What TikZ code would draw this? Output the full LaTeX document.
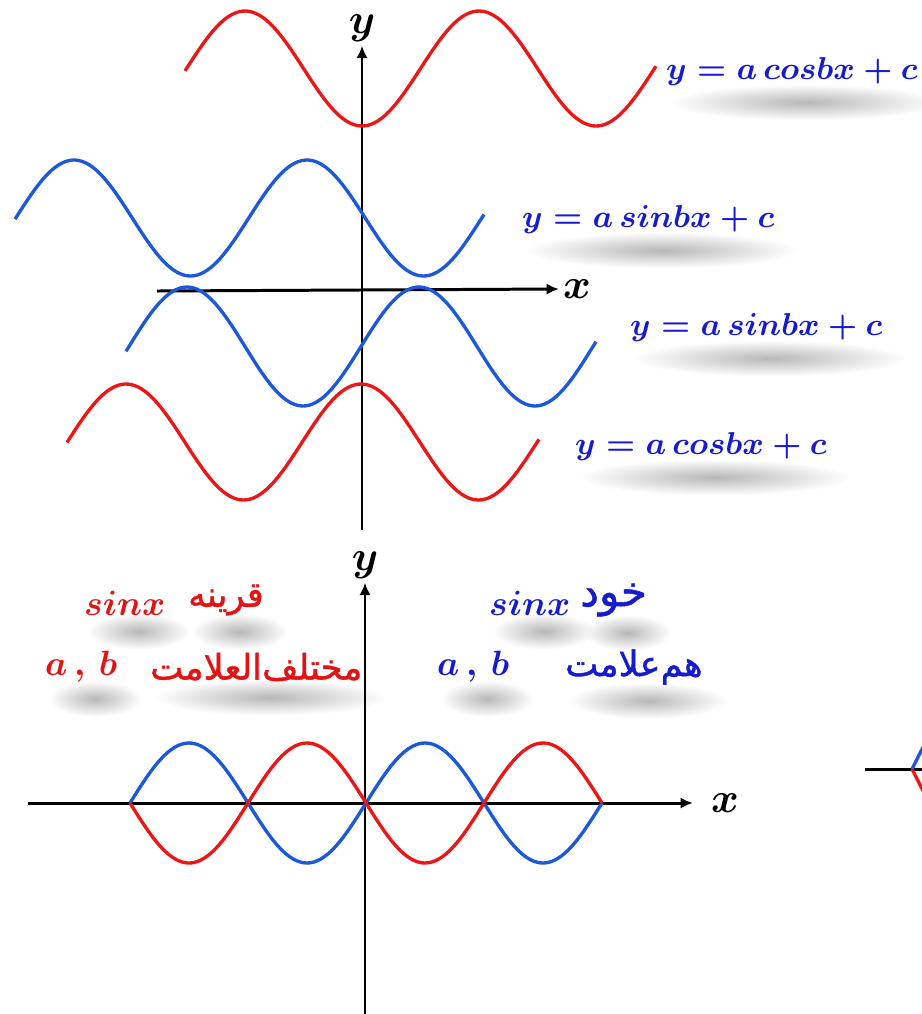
\documentclass[tikz,border=0pt]{standalone}
\usepackage{fontspec}
\newfontfamily\farsi[Script=Arabic,FakeBold=1.2]{DejaVu Sans}
\TeXXeTstate=1
\usetikzlibrary{arrows.meta,fadings,backgrounds}
\definecolor{wavered}{RGB}{236,22,22}
\definecolor{waveblue}{RGB}{28,88,218}
\definecolor{textblue}{RGB}{22,28,205}
\definecolor{textred}{RGB}{228,18,18}
\tikzfading[name=smear, inner color=transparent!30, outer color=transparent!100]
\tikzset{
  wave/.style={line width=0.95pt, smooth, samples=140},
  axis/.style={line width=0.85pt, -{Latex[length=3.5pt,width=3.2pt]}},
  axlabel/.style={font=\large\boldmath, inner sep=1pt},
  eqn/.style={text=textblue, font=\fontsize{9.2}{11}\selectfont\boldmath, inner sep=1pt, anchor=west},
  word/.style={font=\fontsize{10}{12}\selectfont\boldmath, inner sep=1pt, anchor=west},
  fa/.style={font=\fontsize{10}{12}\farsi, inner sep=1pt, anchor=west},
  smudge/.style={fill=black!40, path fading=smear}
}
\begin{document}
\begin{tikzpicture}[x=0.01cm, y=-0.01cm]
  \useasboundingbox (0,0) rectangle (922,1014);
  % upper graph
  \node[axlabel] (ytop) at (362,28) {$y$};
  \node[axlabel] (xtop) at (577,289) {$x$};
  \draw[axis] (362,530) -- (ytop.south);
  \draw[axis] (157,291) -- (xtop.west);
  \draw[wave, wavered, domain=185:656] plot (\x, {68.5+57.5*cos((\x-362)/234*360)});
  \draw[wave, waveblue, domain=15:484] plot (\x, {218-58*cos((\x-307)/233*360)});
  \draw[wave, waveblue, domain=126:596] plot (\x, {346.5-59.5*cos((\x-187)/232*360)});
  \draw[wave, wavered, domain=67:539] plot (\x, {442-58*cos((\x-361)/235*360)});
  \node[eqn] (cosa) at (662,72) {$y = a\,cosbx + c$};
  \node[eqn] (sina) at (518,220) {$y = a\,sinbx + c$};
  \node[eqn] (sinb) at (626,328) {$y = a\,sinbx + c$};
  \node[eqn] (cosb) at (571,447) {$y = a\,cosbx + c$};
  % lower graph
  \node[axlabel] (ybot) at (365,565) {$y$};
  \node[axlabel] (xbot) at (725,803) {$x$};
  \draw[axis] (365,1014) -- (ybot.south);
  \draw[axis, shorten >=4pt] (28,803) -- (xbot.west);
  \draw[wave, waveblue, domain=130:602] plot (\x, {803-60*sin((\x-366)/118*180)});
  \draw[wave, wavered, domain=130:602] plot (\x, {803+60*sin((\x-366)/118*180)});
  \node[word, textred] (sinr) at (80,603) {$sinx$};
  \node[fa, textred] (qarine) at (184,600) {\beginR قرینه\endR};
  \node[word, textred] (abr) at (41,667) {$a\,,\,b$};
  \node[fa, textred] (mokhtalef) at (146,667) {\beginR مختلف‌العلامت\endR};
  \node[word, textblue] (sinbl) at (485,603) {$sinx$};
  \node[fa, textblue, font=\fontsize{12}{14}\farsi] (khod) at (576,600) {\beginR خود\endR};
  \node[word, textblue] (abb) at (433,667) {$a\,,\,b$};
  \node[fa, textblue] (hamalamat) at (561,667) {\beginR هم‌علامت\endR};
  % cut graph at the right edge
  \draw[line width=0.85pt] (865,769) -- (930,769);
  \draw[wave, waveblue, domain=912:935] plot (\x, {769-75*sin((\x-912)/118*180)});
  \draw[wave, wavered, domain=912:935] plot (\x, {769+75*sin((\x-912)/118*180)});
  % soft shadows under the texts
  \begin{scope}[on background layer]
    \foreach \n in {cosa,sina,sinb,cosb,sinr,qarine,abr,mokhtalef,sinbl,khod,abb,hamalamat}
      \fill[smudge] ([shift={(8,-6)}]\n.south west) rectangle ([shift={(20,30)}]\n.south east);
  \end{scope}
\end{tikzpicture}
\end{document}
